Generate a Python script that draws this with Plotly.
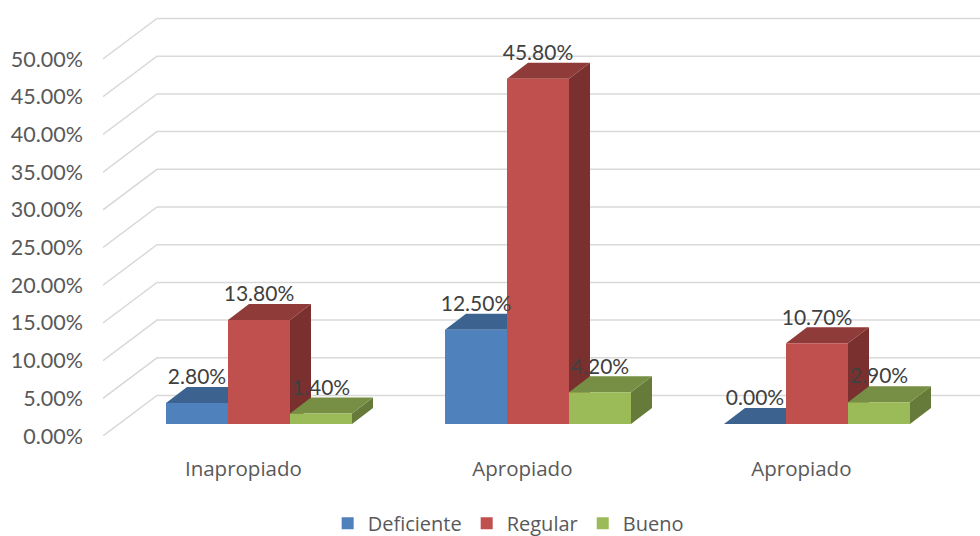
import plotly.graph_objects as go

categories = ["Inapropiado", "Apropiado", "Apropiado"]
deficiente = [2.8, 12.5, 0.0]
regular = [13.8, 45.8, 10.7]
bueno = [1.4, 4.2, 2.9]
y_ticks = [0, 5, 10, 15, 20, 25, 30, 35, 40, 45, 50]

series = [
    ("Deficiente", deficiente, "#4F81BD", "#3C6390", "#33547A", -1),
    ("Regular", regular, "#C0504D", "#8F3B39", "#7A302E", 0),
    ("Bueno", bueno, "#9BBB59", "#778F44", "#667A3A", 1),
]

PX_Y = 7.54            # pixels per percentage point
PX_X = 279.0           # pixels per category
plot_h = 436
x_min = -156 / PX_X
x_max = 721 / PX_X
y_max = plot_h / PX_Y
wall_dx, wall_dy = 54 / PX_X, 40.5 / PX_Y
floor = 12 / PX_Y
bar_w = 62 / PX_X
depth_dx, depth_dy = 21 / PX_X, 16 / PX_Y
label_gap = 8 / PX_Y

fig = go.Figure()

gx, gy = [], []
for v in y_ticks:
    gx += [x_min, x_min + wall_dx, x_max, None]
    gy += [v, v + wall_dy, v + wall_dy, None]
fig.add_trace(go.Scatter(x=gx, y=gy, mode="lines", line=dict(color="#D9D9D9", width=1.5),
                         showlegend=False, hoverinfo="skip", zorder=0))

z = 1
for name, vals, front, top, side, slot in series:
    tx, ty, sx, sy = [], [], [], []
    for i, v in enumerate(vals):
        l = i + slot * bar_w - bar_w / 2
        r = l + bar_w
        t = floor + v
        tx += [l, r, r + depth_dx, l + depth_dx, l, None]
        ty += [t, t, t + depth_dy, t + depth_dy, t, None]
        sx += [r, r + depth_dx, r + depth_dx, r, r, None]
        sy += [floor, floor + depth_dy, t + depth_dy, t, floor, None]
    fig.add_trace(go.Scatter(x=sx, y=sy, mode="lines", fill="toself", fillcolor=side,
                             line=dict(width=0, color=side), showlegend=False,
                             hoverinfo="skip", zorder=z))
    fig.add_trace(go.Scatter(x=tx, y=ty, mode="lines", fill="toself", fillcolor=top,
                             line=dict(width=0, color=top), showlegend=False,
                             hoverinfo="skip", zorder=z + 1))
    fig.add_trace(go.Bar(x=[i + slot * bar_w for i in range(3)], y=vals, base=[floor] * 3,
                         width=bar_w, name=name, marker=dict(color=front, line=dict(width=0)),
                         zorder=z + 2))
    z += 3

for name, vals, front, top, side, slot in series:
    fig.add_trace(go.Scatter(
        x=[i + slot * bar_w for i in range(3)],
        y=[floor + v + depth_dy + label_gap for v in vals],
        mode="text", text=[f"{v:.2f}%" for v in vals], textposition="middle center",
        textfont=dict(family="Lato", size=21, color="#404040"),
        showlegend=False, hoverinfo="skip", cliponaxis=False, zorder=z))

fig.update_layout(
    width=980, height=536,
    margin=dict(l=103, r=0, t=0, b=100, autoexpand=False),
    paper_bgcolor="white", plot_bgcolor="white",
    barmode="overlay",
    showlegend=True,
    legend=dict(orientation="h", x=0.462, xanchor="center", y=-0.2, yanchor="middle",
                font=dict(family="Open Sans", size=20, color="#595959"), itemwidth=30,
                traceorder="normal"),
    xaxis=dict(range=[x_min, x_max], tickvals=[i - 0.056 for i in range(3)], ticktext=categories,
               showgrid=False, zeroline=False, showline=False, ticks="",
               ticklabelstandoff=18, tickfont=dict(family="Open Sans", size=20.5, color="#595959")),
    yaxis=dict(range=[0, y_max], tickvals=y_ticks, ticktext=[f"{v:.2f}%" for v in y_ticks],
               showgrid=False, zeroline=False, showline=False, ticks="", ticklabelshift=0,
               ticklabelstandoff=19, tickfont=dict(family="Lato", size=21.5, color="#595959")),
)

fig.write_html("out.html", config={"displayModeBar": False},
               post_script="document.body.style.margin='0';document.body.style.overflow='hidden';")
